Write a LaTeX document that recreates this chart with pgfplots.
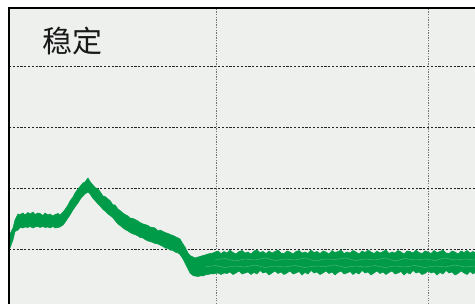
\documentclass[border=0pt]{standalone}
\usepackage{pgfplots}
\pgfplotsset{compat=1.18}
\usepackage{fontspec}
\newfontfamily\cjk{Noto Sans CJK SC}
\definecolor{bg}{RGB}{238,240,238}
\definecolor{grn}{RGB}{0,155,72}
\definecolor{lgrn}{RGB}{70,180,112}
\begin{document}
\begin{tikzpicture}
\begin{axis}[
  scale only axis, width=466bp, height=296bp,
  xmin=9, xmax=475, ymin=0, ymax=296,
  axis line style={draw=none},
  axis background/.style={fill=bg},
  xtick={216.7,428.3}, ytick={54.7,115.6,176.3,237.1},
  xticklabels={}, yticklabels={},
  major tick length=0pt,
  grid=major,
  x grid style={draw=black!55, line width=1.3bp, dash pattern=on 1.3bp off 1.3bp},
  y grid style={draw=black!85, line width=0.8bp, dash pattern=on 2.2bp off 1.6bp},
  clip=false,
]
\addplot[draw=grn, line width=0.5bp, fill=grn] coordinates {
(10,70) (13,76) (15,84) (18,90) (20,89.5) (23,91) (25,89) (28,91.5) (30,90) (33,92) (35,89.5) (38,91) (40,90.5) (43,88.5) (45,91) (48,89) (50,90) (53,88) (55,89.5) (58,90.5) (60,89) (63,92) (65,94.5) (68,99) (70,103) (73,107) (75,111) (78,115) (80,117.5) (83,121) (85,122) (88,126) (90,122.5) (93,119) (95,116.5) (98,115) (100,112.5) (103,108) (105,107.5) (108,105) (110,103.5) (113,99) (115,99) (118,95) (120,93.5) (123,91) (125,89.5) (128,88) (130,86) (133,85.5) (135,84.5) (138,83) (140,81.5) (143,80) (145,79.5) (148,78.5) (150,77) (153,76.5) (155,76) (158,73) (160,74) (163,72.5) (165,71.5) (168,70.5) (170,69.5) (173,68.5) (175,67.5) (178,66) (180,65) (183,60) (185,57) (188,51) (190,48.5) (193,47) (195,46) (198,47) (200,47.5) (203,48.5) (205,49) (208,50) (210,50.5) (213,51) (215,52)
(218,53) (221,50.5) (224,52.5) (227,51) (230,54) (233,51.5) (236,50) (239,52.5) (242,53.5) (245,51) (248,52) (251,50) (254,53) (257,54) (260,51.5) (263,52.5) (266,50.5) (269,53) (272,51) (275,52.5) (278,54) (281,51) (284,50.5) (287,53) (290,52) (293,50) (296,52.5) (299,53.5) (302,51) (305,52) (308,50.5) (311,54) (314,51.5) (317,52.5) (320,50.5) (323,53) (326,52) (329,50) (332,53.5) (335,51.5) (338,52.5) (341,54) (344,50.5) (347,52) (350,51) (353,53.5) (356,52) (359,50) (362,53) (365,51.5) (368,54) (371,52) (374,50.5) (377,53) (380,51) (383,52.5) (386,54) (389,50.5) (392,52) (395,51) (398,53.5) (401,52) (404,50) (407,53) (410,52.5) (413,51) (416,54) (419,51.5) (422,50.5) (425,53) (428,52) (431,50.5) (434,53.5) (437,51.5) (440,52.5) (443,54) (446,51) (449,50.5) (452,53) (455,52) (458,50) (461,53) (464,51.5) (467,53.5) (470,51) (473,52.5) (475,51.5)
(475,31.5) (473,30) (470,32.5) (467,29.5) (464,31) (461,33) (458,30.5) (455,29) (452,32) (449,31) (446,33.5) (443,30) (440,31.5) (437,29) (434,32) (431,31) (428,33) (425,30.5) (422,29.5) (419,32) (416,31) (413,33.5) (410,30) (407,31.5) (404,29) (401,32.5) (398,31) (395,30) (392,33) (389,31.5) (386,29.5) (383,32) (380,30.5) (377,33) (374,31) (371,29) (368,32) (365,31) (362,33.5) (359,30) (356,31.5) (353,29.5) (350,32.5) (347,31) (344,30) (341,33) (338,31.5) (335,29) (332,32) (329,30.5) (326,33) (323,31) (320,29.5) (317,32) (314,31) (311,33.5) (308,30) (305,31.5) (302,29) (299,32.5) (296,31) (293,30) (290,33) (287,31) (284,29.5) (281,32) (278,30.5) (275,33) (272,31) (269,29) (266,32) (263,31) (260,33.5) (257,30) (254,31.5) (251,29.5) (248,32) (245,31) (242,30) (239,33) (236,31) (233,29.5) (230,32) (227,30.5) (224,31) (221,29.5) (218,31)
(215,30.5) (213,30) (210,30) (208,29.5) (205,29) (203,28) (200,28) (198,27.5) (195,28) (193,28.5) (190,31) (188,35) (185,41) (183,45) (180,49.5) (178,51) (175,52) (173,53.5) (170,54) (168,55.5) (165,56) (163,57.5) (160,59) (158,60) (155,60.5) (153,61.5) (150,62.5) (148,63) (145,64.5) (143,66) (140,66.5) (138,68) (135,69.5) (133,70) (130,71.5) (128,73) (125,74.5) (123,76) (120,78.5) (118,80) (115,83.5) (113,86) (110,88.5) (108,90) (105,93) (103,94.5) (100,98) (98,100) (95,103.5) (93,105.5) (90,110) (88,112) (85,110) (83,108) (80,104.5) (78,101) (75,97) (73,94) (70,89) (68,86) (65,81.5) (63,79) (60,77) (58,76.5) (55,76) (53,77.5) (50,76) (48,77) (45,76.5) (43,77.5) (40,76.5) (38,77.5) (35,77) (33,76) (30,77.5) (28,76.5) (25,77) (23,76) (20,76.5) (18,74) (15,72.5) (13,64) (10,56)
} -- cycle;
\addplot[draw=lgrn, line width=0.5bp] coordinates {
(215,44) (225,45.5) (235,43) (245,45) (255,44) (265,46) (275,43.5) (285,45) (295,44) (305,46) (315,43) (325,45) (335,44.5) (345,46) (355,43.5) (365,45) (375,44) (385,46) (395,43) (405,45.5) (415,44) (425,45) (435,43.5) (445,46) (455,44) (465,45) (475,44)
};
\addplot[draw=lgrn, line width=0.5bp] coordinates {
(205,37) (215,38.5) (225,36.5) (235,38) (245,37) (255,39) (265,36.5) (275,38) (285,37) (295,38.5) (305,36.5) (315,38) (325,37.5) (335,39) (345,36.5) (355,38) (365,37) (375,38.5) (385,36.5) (395,38) (405,37) (415,38.5) (425,36.5) (435,38) (445,37) (455,39) (465,37) (475,38)
};
\draw[line width=2.6bp, line join=miter] (axis cs:9,0) -- (axis cs:9,296) -- (axis cs:475,296);
\node[font=\cjk\fontsize{30bp}{32bp}\selectfont, text=black!90] at (axis cs:72,263) {稳定};
\coordinate (A) at (axis cs:0,0);
\coordinate (B) at (axis cs:475,304);
\end{axis}
\pgfresetboundingbox
\path (A) rectangle (B);
\end{tikzpicture}
\end{document}
